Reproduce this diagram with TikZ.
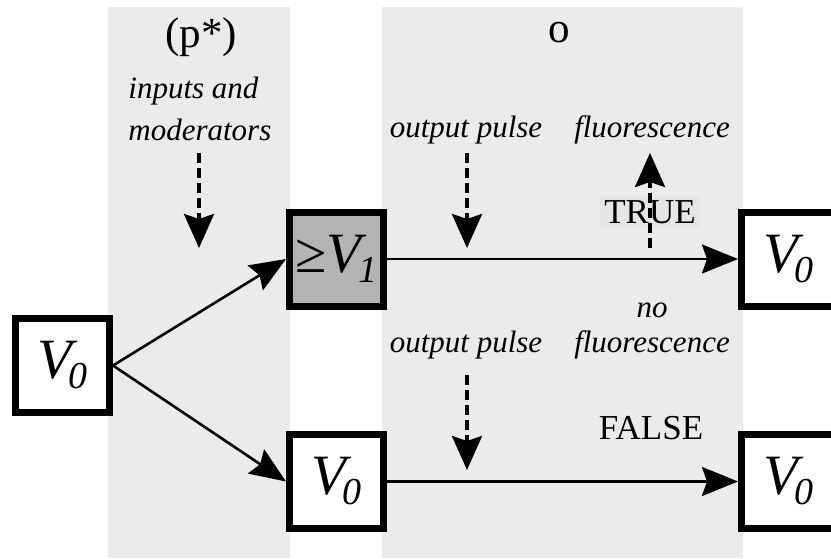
\documentclass[tikz,border=0pt]{standalone}
\usepackage{fontspec}
\setmainfont{Liberation Serif}[ItalicFont=Liberation Serif Italic]
\usetikzlibrary{arrows.meta}
\definecolor{band}{HTML}{EBEBEB}
\definecolor{boxgray}{HTML}{B3B3B3}
\definecolor{truebg}{HTML}{E5E5E5}
\newcommand\bigV[1]{{\fontsize{28.5}{30}\selectfont\itshape V\kern-1.5pt\raisebox{-5pt}{\fontsize{19}{20}\selectfont #1}}}
\begin{document}
\begin{tikzpicture}[x=0.5pt,y=-0.5pt,
  vbox/.style={draw, line width=3.5pt, minimum size=47pt, inner sep=0pt, fill=white},
  arr/.style={line width=1.3pt, -{Stealth[length=18pt,width=14.5pt,inset=2.5pt]}},
  darr/.style={line width=1.7pt, dash pattern=on 5pt off 2.5pt, -{Stealth[length=17pt,width=15pt,inset=2.5pt]}},
  lbl/.style={font=\fontsize{15.5}{21}\selectfont\itshape, inner sep=0pt, anchor=base},
  caplbl/.style={font=\fontsize{17.5}{20}\selectfont, inner sep=0pt, anchor=base},
  headlbl/.style={font=\fontsize{21.5}{24}\selectfont, inner sep=0pt, anchor=base}]
\useasboundingbox (0,0) rectangle (831,558);
% bands
\fill[band] (108,7) rectangle (290,558);
\fill[band] (382,7) rectangle (743,558);
% headings
\node[headlbl] (ph) at (201,47.5) {(p*)};
\node[headlbl] (oh) at (559,42) {o};
% labels
\node[lbl, anchor=base west] (in1) at (128,98) {inputs and};
\node[lbl, anchor=base west] (in2) at (128,140) {moderators};
\node[lbl] (op1) at (466,137) {output pulse};
\node[lbl] (fl1) at (652,137) {fluorescence};
\node[lbl] (no) at (652,317) {no};
\node[lbl] (op2) at (466,352) {output pulse};
\node[lbl] (fl2) at (652,352) {fluorescence};
\node[caplbl, fill=truebg, inner xsep=2pt, inner ysep=2pt] (tr) at (650,223) {TRUE};
\node[caplbl] (fa) at (651,439) {FALSE};
% boxes
\node[vbox] (a) at (62.5,365.5) {\bigV{0}};
\node[vbox, fill=boxgray] (g) at (336.5,259) {{\fontsize{28.5}{30}\selectfont ≥\itshape V\kern-1.5pt\raisebox{-5pt}{\fontsize{19}{20}\selectfont 1}}};
\node[vbox] (m) at (336.5,481.5) {\bigV{0}};
\node[vbox] (r1) at (788.5,259) {\bigV{0}};
\node[vbox] (r2) at (788.5,481.5) {\bigV{0}};
% solid arrows
\draw[arr] (a.east) -- (g.west);
\draw[arr] (a.east) -- (m.west);
\draw[arr] (g.east) -- (r1.west);
\draw[arr] (m.east) -- (r2.west);
% dashed arrows
\coordinate (i0) at (199,153); \coordinate (i1) at (199,248);
\coordinate (p0) at (467,153); \coordinate (p1) at (467,248);
\coordinate (f0) at (650,248); \coordinate (f1) at (650,153);
\coordinate (q0) at (467,375); \coordinate (q1) at (467,470);
\draw[darr] (i0) -- (i1);
\draw[darr] (p0) -- (p1);
\draw[darr] (f0) -- (f1);
\draw[darr] (q0) -- (q1);
\end{tikzpicture}
\end{document}
